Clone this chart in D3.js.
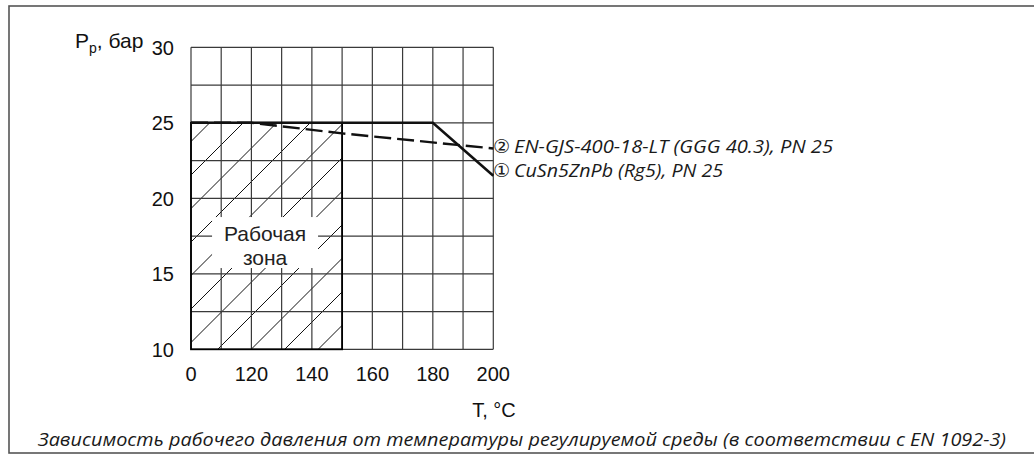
<!DOCTYPE html>
<html>
<head>
<meta charset="utf-8">
<script src="https://cdn.jsdelivr.net/npm/d3@7"></script>
<style>
  html, body { margin: 0; padding: 0; background: #fff; }
  svg { display: block; }
</style>
</head>
<body>
<svg id="chart" width="1034" height="459"></svg>
<script>
// Pressure / temperature ratings (EN 1092-3)
const gridTemps = [0, 60, 120, 130, 140, 150, 160, 170, 180, 190, 200];
const gridPressures = [10, 12.5, 15, 17.5, 20, 22.5, 25, 27.5, 30];
const tempTicks = [0, 120, 140, 160, 180, 200];
const pressureTicks = [10, 15, 20, 25, 30];

const cuSnTemps = [0, 180, 200];
const cuSnPressures = [25, 25, 21.5];
const gjsTemps = [0, 120, 150, 200];
const gjsPressures = [25, 25, 24.3, 23.3];

const seriesMarks = ["\u2461", "\u2460"];
const seriesNames = ["EN-GJS-400-18-LT (GGG 40.3), PN 25", "CuSn5ZnPb (Rg5), PN 25"];

const zoneTempMax = 150;
const zonePressureMin = 10;
const zonePressureMax = 25;
const zoneLines = ["Рабочая", "зона"];

const yAxisTitle = ["P", "p", ", бар"];
const xAxisTitle = "T, °C";
const caption = "Зависимость рабочего давления от температуры регулируемой среды (в соответствии с EN 1092-3)";

const svg = d3.select("#chart");

// Broken temperature axis: 0…120 is compressed into two cells
const x = d3.scaleLinear().domain([0, 120, 200]).range([191, 251.4, 493.3]);
const y = d3.scaleLinear().domain([10, 30]).range([349.3, 47.3]);

// Outer frame
svg.append("rect")
  .attr("x", 9).attr("y", 6).attr("width", 1040).attr("height", 447)
  .attr("fill", "none").attr("stroke", "#555").attr("stroke-width", 1.6);

// Hatched working zone
const zx0 = x(0), zx1 = x(zoneTempMax), zy0 = y(zonePressureMax), zy1 = y(zonePressureMin);
svg.append("clipPath").attr("id", "zoneClip")
  .append("rect").attr("x", zx0).attr("y", zy0).attr("width", zx1 - zx0).attr("height", zy1 - zy0);

const hatchStep = 33.5, hatchPhase = 31;
const hatchKs = [];
for (let k = hatchPhase; k < zx1 + zy1 + hatchStep; k += hatchStep) {
  if (k > zx0 + zy0 - hatchStep) hatchKs.push(k);
}
svg.append("g").attr("clip-path", "url(#zoneClip)")
  .selectAll("line").data(hatchKs).join("line")
  .attr("x1", k => k - zy1).attr("y1", zy1)
  .attr("x2", k => k - zy0).attr("y2", zy0)
  .attr("stroke", "#111").attr("stroke-width", 1);

// Grid
const grid = svg.append("g").attr("stroke", "#3a3a3a").attr("stroke-width", 1.2);
grid.selectAll(".v").data(gridTemps).join("line")
  .attr("x1", d => x(d)).attr("x2", d => x(d))
  .attr("y1", y(10)).attr("y2", y(30));
grid.selectAll(".h").data(gridPressures).join("line")
  .attr("x1", x(0)).attr("x2", x(200))
  .attr("y1", d => y(d)).attr("y2", d => y(d));

// Zone outline
svg.append("rect")
  .attr("x", zx0).attr("y", zy0).attr("width", zx1 - zx0).attr("height", zy1 - zy0)
  .attr("fill", "none").attr("stroke", "#000").attr("stroke-width", 1.8);

// Zone label with white backing
const zcx = (zx0 + zx1) / 2 - 1.5, zcy = (zy0 + zy1) / 2 + 6.5;
svg.append("rect")
  .attr("x", zcx - 53).attr("y", zcy - 25.5).attr("width", 106).attr("height", 51)
  .attr("fill", "#fff");
svg.append("g").selectAll("text").data(zoneLines).join("text")
  .attr("x", zcx).attr("y", (d, i) => zcy - 1.5 + i * 24)
  .attr("text-anchor", "middle")
  .attr("font-family", "Liberation Sans, Arial, sans-serif")
  .attr("font-size", 21).attr("fill", "#222")
  .text(d => d);

// Series lines
const line = d3.line().x(d => x(d[0])).y(d => y(d[1]));
svg.append("path")
  .datum(d3.zip(gjsTemps, gjsPressures))
  .attr("d", line).attr("fill", "none")
  .attr("stroke", "#111").attr("stroke-width", 2.4)
  .attr("stroke-dasharray", "17,6");
svg.append("path")
  .datum(d3.zip(cuSnTemps, cuSnPressures))
  .attr("d", line).attr("fill", "none")
  .attr("stroke", "#111").attr("stroke-width", 2.6);

// Axis tick labels
const tickFont = "Liberation Sans, Arial, sans-serif";
svg.append("g").selectAll("text").data(pressureTicks).join("text")
  .attr("x", 174).attr("y", d => y(d)).attr("dy", "0.36em")
  .attr("text-anchor", "end")
  .attr("font-family", tickFont).attr("font-size", 20).attr("fill", "#111")
  .text(d => d);
svg.append("g").selectAll("text").data(tempTicks).join("text")
  .attr("x", d => x(d)).attr("y", 381)
  .attr("text-anchor", "middle")
  .attr("font-family", tickFont).attr("font-size", 20).attr("fill", "#111")
  .text(d => d);

// Axis titles
const yt = svg.append("text").attr("x", 75).attr("y", 48)
  .attr("font-family", tickFont).attr("font-size", 21).attr("fill", "#111");
yt.append("tspan").text(yAxisTitle[0]);
yt.append("tspan").attr("font-size", 14).attr("dy", 5).text(yAxisTitle[1]);
yt.append("tspan").attr("dy", -5).text(yAxisTitle[2]);

svg.append("text").attr("x", 494).attr("y", 417)
  .attr("text-anchor", "middle")
  .attr("font-family", tickFont).attr("font-size", 20).attr("fill", "#111")
  .text(xAxisTitle);

// Series labels
const labelY = [y(gjsPressures[gjsPressures.length - 1]) + 5, y(cuSnPressures[cuSnPressures.length - 1]) + 1];
const labelLen = [319, 209];
seriesNames.forEach((name, i) => {
  svg.append("text").attr("x", 493).attr("y", labelY[i])
    .attr("font-family", "DejaVu Sans, sans-serif").attr("font-size", 19).attr("fill", "#222")
    .text(seriesMarks[i]);
  svg.append("text").attr("x", 514).attr("y", labelY[i])
    .attr("font-family", "Open Sans, sans-serif").attr("font-style", "italic")
    .attr("font-size", 17.5).attr("fill", "#1a1a1a")
    .attr("textLength", labelLen[i]).attr("lengthAdjust", "spacingAndGlyphs")
    .text(name);
});

// Caption
svg.append("text").attr("x", 38).attr("y", 446)
  .attr("font-family", "Open Sans, sans-serif").attr("font-style", "italic")
  .attr("font-size", 18).attr("fill", "#1a1a1a")
  .attr("textLength", 968).attr("lengthAdjust", "spacingAndGlyphs")
  .text(caption);
</script>
</body>
</html>
